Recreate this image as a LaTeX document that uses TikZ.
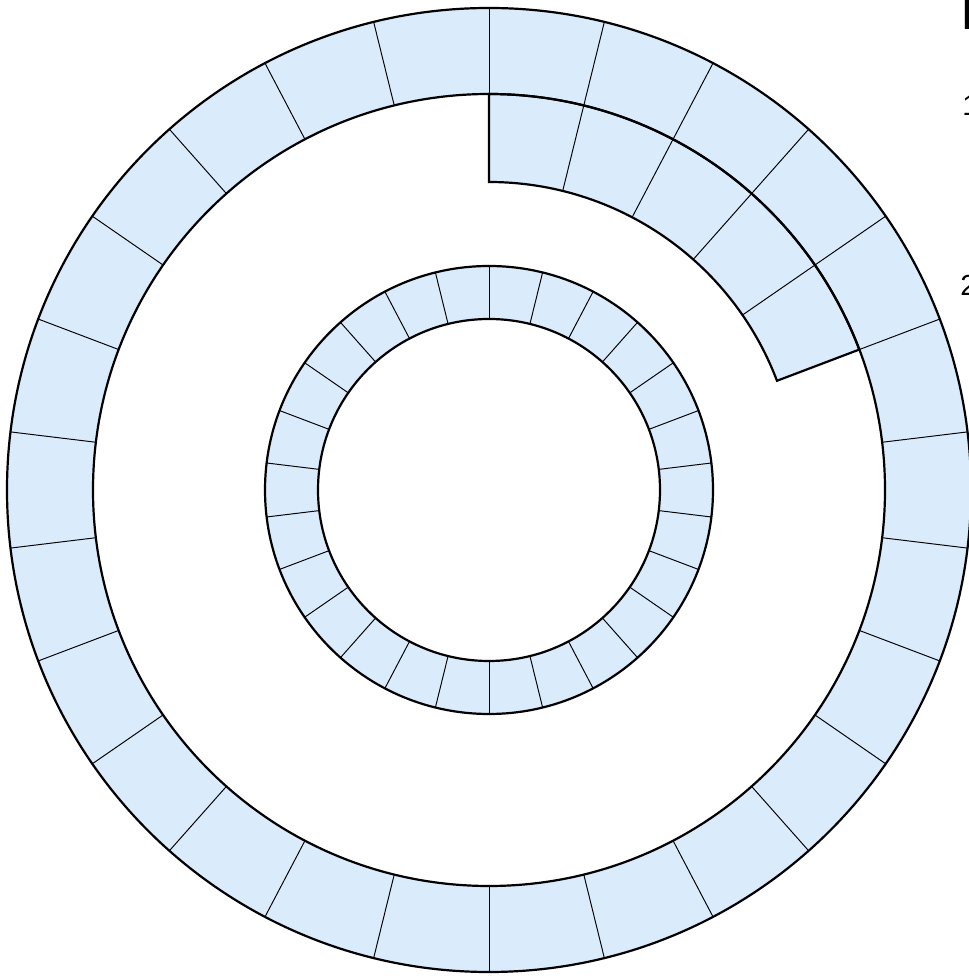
\documentclass[tikz,border=0pt]{standalone}
\usepackage{fontspec}
\setmainfont{Liberation Sans}
\definecolor{cellblue}{RGB}{218,235,252}
\usepackage{tikz}
\usetikzlibrary{positioning}
\tikzset{
  cellfill/.style={fill=cellblue, even odd rule},
  rim/.style={draw=black, line width=1.25pt},
  spoke/.style={draw=black, line width=0.55pt},
  marklabel/.style={anchor=base west, inner sep=0pt, font=\fontsize{16.5}{20}\selectfont},
}

\begin{document}
\begin{tikzpicture}[x=0.02cm,y=0.02cm]
        \useasboundingbox (0,0) rectangle (968,980);
        \coordinate (c) at (489,490);
        \begin{scope}[shift={(c)}]
          % rings
          \fill[cellfill] (0,0) circle (482) (0,0) circle (396);
          \fill[cellfill] (0,0) circle (224) (0,0) circle (171);
          \fill[cellblue] (90:308) -- (90:396) arc (90:20.77:396) -- (20.77:308) arc (20.77:90:308) -- cycle;
          % cells
          \foreach \k in {0,...,25}
            \draw[spoke] ({90-\k*360/26}:396) -- ({90-\k*360/26}:482);
          \foreach \k in {1,...,4}
            \draw[spoke] ({90-\k*360/26}:308) -- ({90-\k*360/26}:396);
          \foreach \k in {0,...,25}
            \draw[spoke] ({90-\k*360/26}:171) -- ({90-\k*360/26}:224);
          % outlines
          \draw[rim] (0,0) circle (482);
          \draw[rim] (0,0) circle (396);
          \draw[rim] (0,0) circle (224);
          \draw[rim] (0,0) circle (171);
          \draw[rim, line join=miter] (90:308) -- (90:396) arc (90:20.77:396) -- (20.77:308) arc (20.77:90:308) -- cycle;
        \end{scope}
        \node[marklabel, font=\fontsize{24}{28}\selectfont\bfseries] (head) at (962,950) {H};
        \node[marklabel] (one) at (962,864) {1};
        \node[marklabel] (two) at (960,684) {2};
\end{tikzpicture}
\end{document}
